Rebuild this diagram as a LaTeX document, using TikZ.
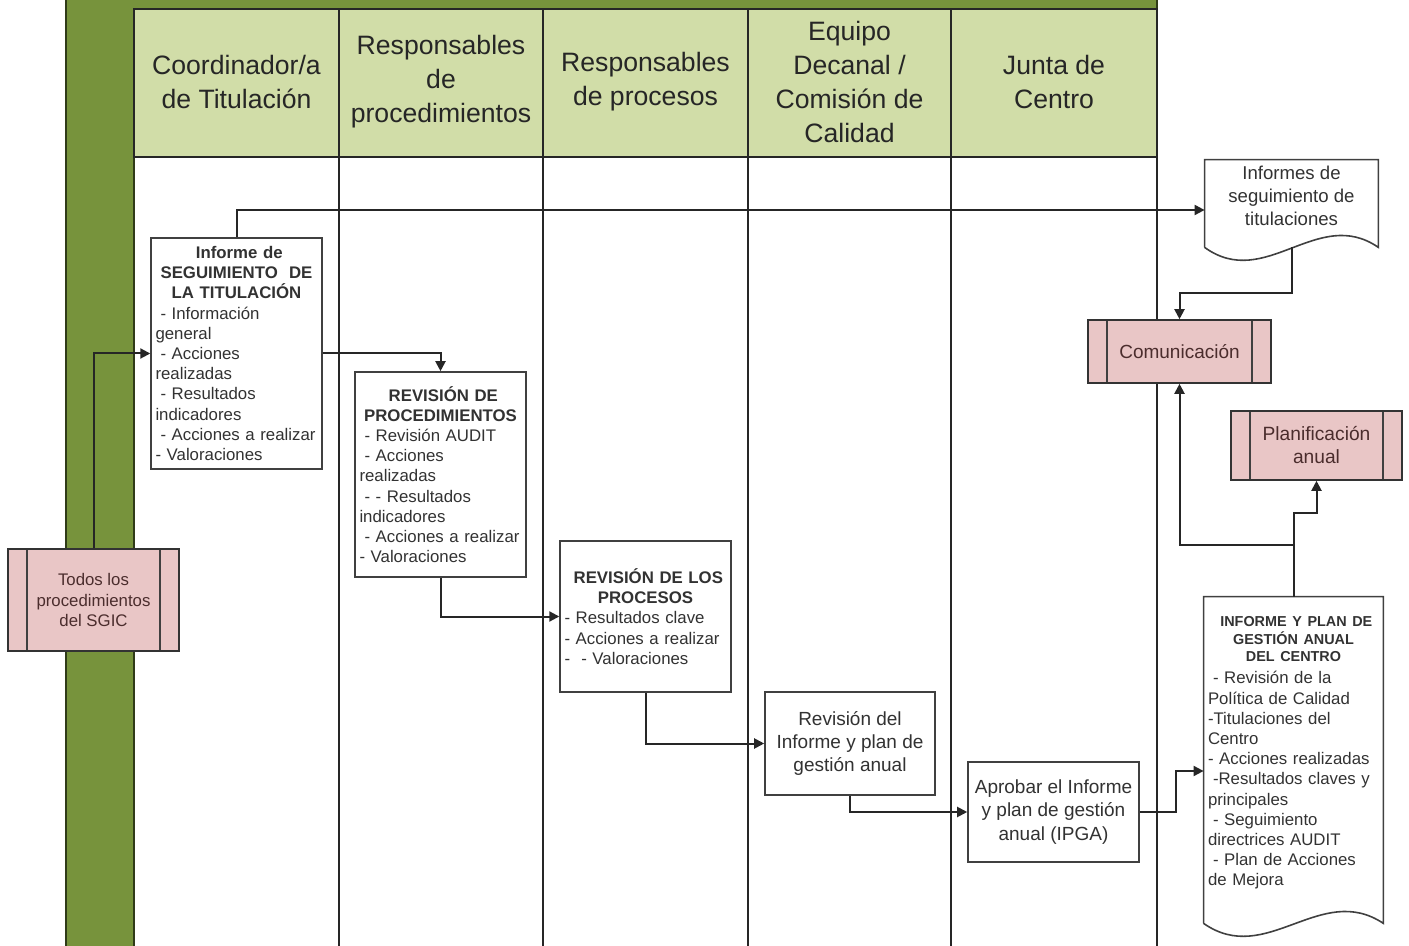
\documentclass[tikz,border=0pt]{standalone}
\usepackage{fontspec}
\setmainfont{Liberation Sans}
\usetikzlibrary{arrows.meta,calc}
\setlength{\parindent}{0pt}
\definecolor{olivebar}{RGB}{119,147,60}
\definecolor{headfill}{RGB}{209,221,168}
\definecolor{subfill}{RGB}{233,198,198}
\definecolor{inkgray}{RGB}{50,50,50}
\definecolor{subink}{RGB}{75,45,45}
\newcommand{\hdr}[2][]{{\centering\bfseries#1 #2\par}}
\newcommand{\itm}{\hspace*{2.5pt}}
% document shape: straight sides, wavy bottom
\newcommand{\docoutline}[2]{%
  \coordinate (#1-r) at ([yshift=-#2]#1.south east);
  \coordinate (#1-l) at ([yshift=-#2]#1.south west);
  \draw[docline] (#1-l) -- (#1.north west) -- (#1.north east) -- (#1-r)
    .. controls ($(#1-r)!0.35!(#1-l)+(0,-42)$) and ($(#1-r)!0.65!(#1-l)+(0,44)$) .. (#1-l);
}

\begin{document}
\begin{tikzpicture}[
    x=0.5pt, y=-0.5pt,
    laneline/.style={line width=1pt, draw=black!85},
    lanehead/.style={align=center, font=\fontsize{13.3}{17}\selectfont, text=black!85},
    procbox/.style={draw=black!75, line width=0.8pt, fill=white, text width=81pt, inner xsep=2.2pt, inner ysep=2pt, font=\fontsize{8.4}{10.1}\selectfont, text=inkgray},
    textbox/.style={draw=black!75, line width=0.8pt, fill=white, align=center, minimum width=85.5pt, font=\fontsize{9.5}{11.7}\selectfont, text=inkgray},
    subproc/.style={draw=black!80, line width=0.8pt, fill=subfill, align=center, text=subink,
      path picture={
        \draw[black!75, line width=0.8pt] ([xshift=9.5pt]path picture bounding box.north west) -- ([xshift=9.5pt]path picture bounding box.south west);
        \draw[black!75, line width=0.8pt] ([xshift=-9.5pt]path picture bounding box.north east) -- ([xshift=-9.5pt]path picture bounding box.south east);}},
    docnode/.style={align=center, inner sep=2pt, text=inkgray},
    docline/.style={draw=black!75, line width=0.8pt},
    conn/.style={line width=1pt, draw=black!85, -{Triangle[length=5pt,width=5pt]}}
  ]
  \useasboundingbox (0,0) rectangle (1409,946);

  % swimlane frame
  \filldraw[fill=olivebar, draw=black!60!olivebar, line width=1pt]
    (66,-2) -- (1157,-2) -- (1157,9) -- (134,9) -- (134,948) -- (66,948) -- cycle;
  \filldraw[fill=headfill, draw=black!85, line width=1pt] (134,9) rectangle (1157,157);
  \foreach \x in {339,543,748,951,1157}
    \draw[laneline] (\x,9) -- (\x,948);

  \node[lanehead] (hCoord) at (236.5,82) {Coordinador/a\\de Titulación};
  \node[lanehead] (hProced) at (441,82) {Responsables\\de\\procedimientos};
  \node[lanehead] (hProces) at (645.5,82) {Responsables\\de procesos};
  \node[lanehead] (hEquipo) at (849.5,82) {Equipo\\Decanal /\\Comisión de\\Calidad};
  \node[lanehead] (hJunta) at (1054,82) {Junta de\\Centro};

  % boxes
  \node[procbox, minimum height=115.5pt] (infoSeg) at (236.5,353.5)
    {\hdr{Informe de\\SEGUIMIENTO~~DE\\LA TITULACIÓN}\raggedright
     \itm- Información\\general\\\itm- Acciones\\realizadas\\\itm- Resultados\\indicadores\\\itm- Acciones a realizar\\- Valoraciones};
  \node[procbox, minimum height=102.5pt] (revProc) at (440.5,474.5)
    {\hdr{REVISIÓN DE\\PROCEDIMIENTOS}\raggedright
     \itm- Revisión AUDIT\\\itm- Acciones\\realizadas\\\itm- - Resultados\\indicadores\\\itm- Acciones a realizar\\- Valoraciones};
  \node[procbox, minimum height=75.5pt] (revProcs) at (645.5,616.5)
    {\hdr{REVISIÓN DE LOS\\PROCESOS}\raggedright
     - Resultados clave\\- Acciones a realizar\\-\ \ - Valoraciones};
  \node[textbox, minimum width=85pt, minimum height=51.5pt] (revInf) at (850,743.5)
    {Revisión del\\Informe y plan de\\gestión anual};
  \node[textbox, minimum height=50pt] (aprobar) at (1053.5,812)
    {Aprobar el Informe\\y plan de gestión\\anual (IPGA)};

  \node[docnode, minimum width=86.5pt, minimum height=36pt, font=\fontsize{9.3}{11.5}\selectfont] (segTit) at (1291.5,196)
    {Informes de\\seguimiento de\\titulaciones};
  \docoutline{segTit}{7.5pt}
  \node[docnode, text width=85.5pt, minimum height=156pt, align=left, font=\fontsize{8.4}{10.1}\selectfont] (infPlan) at (1293.5,753)
    {\hdr[\fontsize{7.2}{8.75}\selectfont]{INFORME Y PLAN DE\\GESTIÓN ANUAL\\DEL CENTRO}\vspace{1pt}\raggedright
     \itm- Revisión de la\\Política de Calidad\\-Titulaciones del\\Centro\\- Acciones realizadas\\\itm-Resultados claves y\\principales\\\itm- Seguimiento\\directrices AUDIT\\\itm- Plan de Acciones\\de Mejora};
  \docoutline{infPlan}{7pt}

  \node[subproc, minimum width=91.5pt, minimum height=31.5pt, font=\fontsize{9.5}{11.5}\selectfont] (comun) at (1179.5,351.5) {Comunicación};
  \node[subproc, minimum width=85.5pt, minimum height=34.5pt, font=\fontsize{9.6}{11.5}\selectfont] (planif) at (1316.5,445.5) {Planificación\\anual};
  \node[subproc, minimum width=85.5pt, minimum height=51pt, font=\fontsize{8.4}{10.2}\selectfont] (todos) at (93.5,600) {Todos los\\procedimientos\\del SGIC};

  % connectors
  \draw[conn] (todos.north) |- (infoSeg.west);
  \draw[conn] (infoSeg.north) |- ([yshift=-7pt]segTit.west);
  \draw[conn] (infoSeg.east) -| (revProc.north);
  \draw[conn] (revProc.south) |- (revProcs.west);
  \draw[conn] (revProcs.south) |- (revInf.west);
  \draw[conn] (revInf.south) |- (aprobar.west);
  \draw[conn] (aprobar.east) -- ++(36,0) |- ([yshift=-9pt]infPlan.west);
  \draw[conn] (segTit.south |- segTit-l) -- ++(0,46) -| (comun.north);
  \draw[conn] (infPlan.north) -- ++(0,-52) -| (comun.south);
  \draw[conn] (infPlan.north) -- ++(0,-84) -| (planif.south);
\end{tikzpicture}
\end{document}
